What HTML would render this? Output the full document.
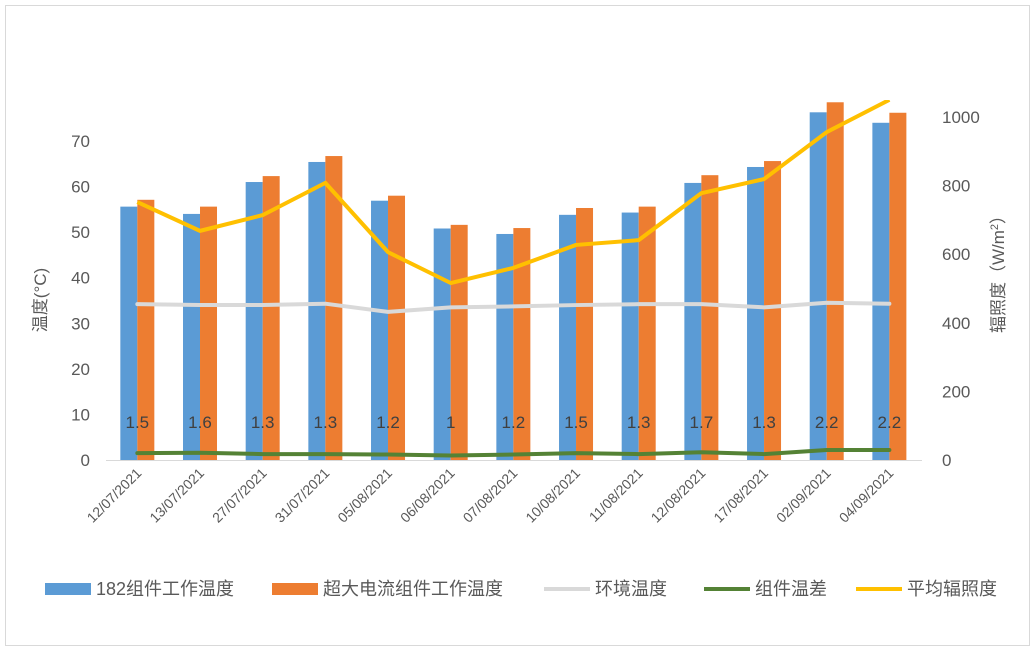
<!DOCTYPE html>
<html><head><meta charset="utf-8"><style>
body{margin:0;background:#fff;}
svg{display:block;font-family:"Liberation Sans","Noto Sans CJK SC",sans-serif;}
</style></head><body>
<svg width="1035" height="652" viewBox="0 0 1035 652" xmlns="http://www.w3.org/2000/svg">
<rect x="5.5" y="5.5" width="1024" height="640" fill="#fff" stroke="#d9d9d9"/>
<defs><clipPath id="cp"><rect x="0" y="100" width="1035" height="600"/></clipPath></defs>
<g id="c"></g>
<text font-size="17" fill="#595959" text-anchor="middle" transform="translate(1004,270) rotate(-90)">辐照度（W/m<tspan dy="-6" font-size="11">2</tspan><tspan dy="6">）</tspan></text>
<script>
var g=document.getElementById('c'),NS='http://www.w3.org/2000/svg';
function el(t,a,txt){var e=document.createElementNS(NS,t);for(var k in a)e.setAttribute(k,a[k]);if(txt!==undefined)e.textContent=txt;g.appendChild(e);return e;}
var b=[55.6,54,61,65.4,56.9,50.8,49.6,53.8,54.3,60.8,64.3,76.3,74];
var o=[57.1,55.6,62.3,66.7,58,51.6,50.9,55.3,55.6,62.5,65.6,78.5,76.2];
var a=[34.2,34,34,34.3,32.5,33.5,33.7,34,34.2,34.2,33.5,34.5,34.3];
var d=[1.5,1.6,1.3,1.3,1.2,1,1.2,1.5,1.3,1.7,1.3,2.2,2.2];
var r=[752,668,714,808,606,516,560,627,641,778,819,956,1050];
var dates=["12/07/2021","13/07/2021","27/07/2021","31/07/2021","05/08/2021","06/08/2021","07/08/2021","10/08/2021","11/08/2021","12/08/2021","17/08/2021","02/09/2021","04/09/2021"];
var Y0=460,L=106,W=62.67;
function yl(v){return Y0-v*4.557;}function yr(v){return Y0-v*0.343;}
function cx(i){return L+W*(i+0.5);}
for(var v=0;v<=70;v+=10)el('text',{x:90,y:yl(v)+6,'text-anchor':'end','font-size':17,fill:'#595959'},v);
for(var v=0;v<=1000;v+=200)el('text',{x:942,y:yr(v)+6,'font-size':17,fill:'#595959'},v);
el('line',{x1:L,x2:922,y1:Y0+.5,y2:Y0+.5,stroke:'#d9d9d9'});
for(var i=0;i<13;i++){var c=cx(i);
el('rect',{x:c-17,y:yl(b[i]),width:17,height:b[i]*4.557,fill:'#5b9bd5'});
el('rect',{x:c,y:yl(o[i]),width:17,height:o[i]*4.557,fill:'#ed7d31'});
el('text',{x:0,y:0,'font-size':14,fill:'#595959','text-anchor':'end',transform:'translate('+(c+5)+',474) rotate(-45)'},dates[i]);}
function line(arr,f,col,w){var p=arr.map(function(v,i){return cx(i)+','+f(v)}).join(' ');el('polyline',{points:p,fill:'none',stroke:col,'stroke-width':w,'stroke-linejoin':'round','stroke-linecap':'round'});}
line(a,yl,'#d9d9d9',4);line(d,yl,'#548235',4);
var p=r.map(function(v,i){return cx(i)+','+yr(v)}).join(' ');el('polyline',{points:p,fill:'none',stroke:'#ffc000','stroke-width':4,'stroke-linejoin':'round','clip-path':'url(#cp)'});
for(var i=0;i<13;i++)el('text',{x:cx(i),y:428,'text-anchor':'middle','font-size':17,fill:'#404040'},d[i]);
el('text',{x:0,y:0,'font-size':17,fill:'#595959','text-anchor':'middle',transform:'translate(46,300) rotate(-90)'},'温度(°C)');
var lg=[[45,'#5b9bd5','182组件工作温度',1],[272,'#ed7d31','超大电流组件工作温度',1],[544,'#d9d9d9','环境温度',0],[704,'#548235','组件温差',0],[856,'#ffc000','平均辐照度',0]];
lg.forEach(function(q){if(q[3])el('rect',{x:q[0],y:583,width:46,height:12,fill:q[1]});else el('line',{x1:q[0],x2:q[0]+46,y1:589,y2:589,stroke:q[1],'stroke-width':4});
el('text',{x:q[0]+51,y:595,'font-size':18,fill:'#595959'},q[2]);});
</script>
</svg>
</body></html>
